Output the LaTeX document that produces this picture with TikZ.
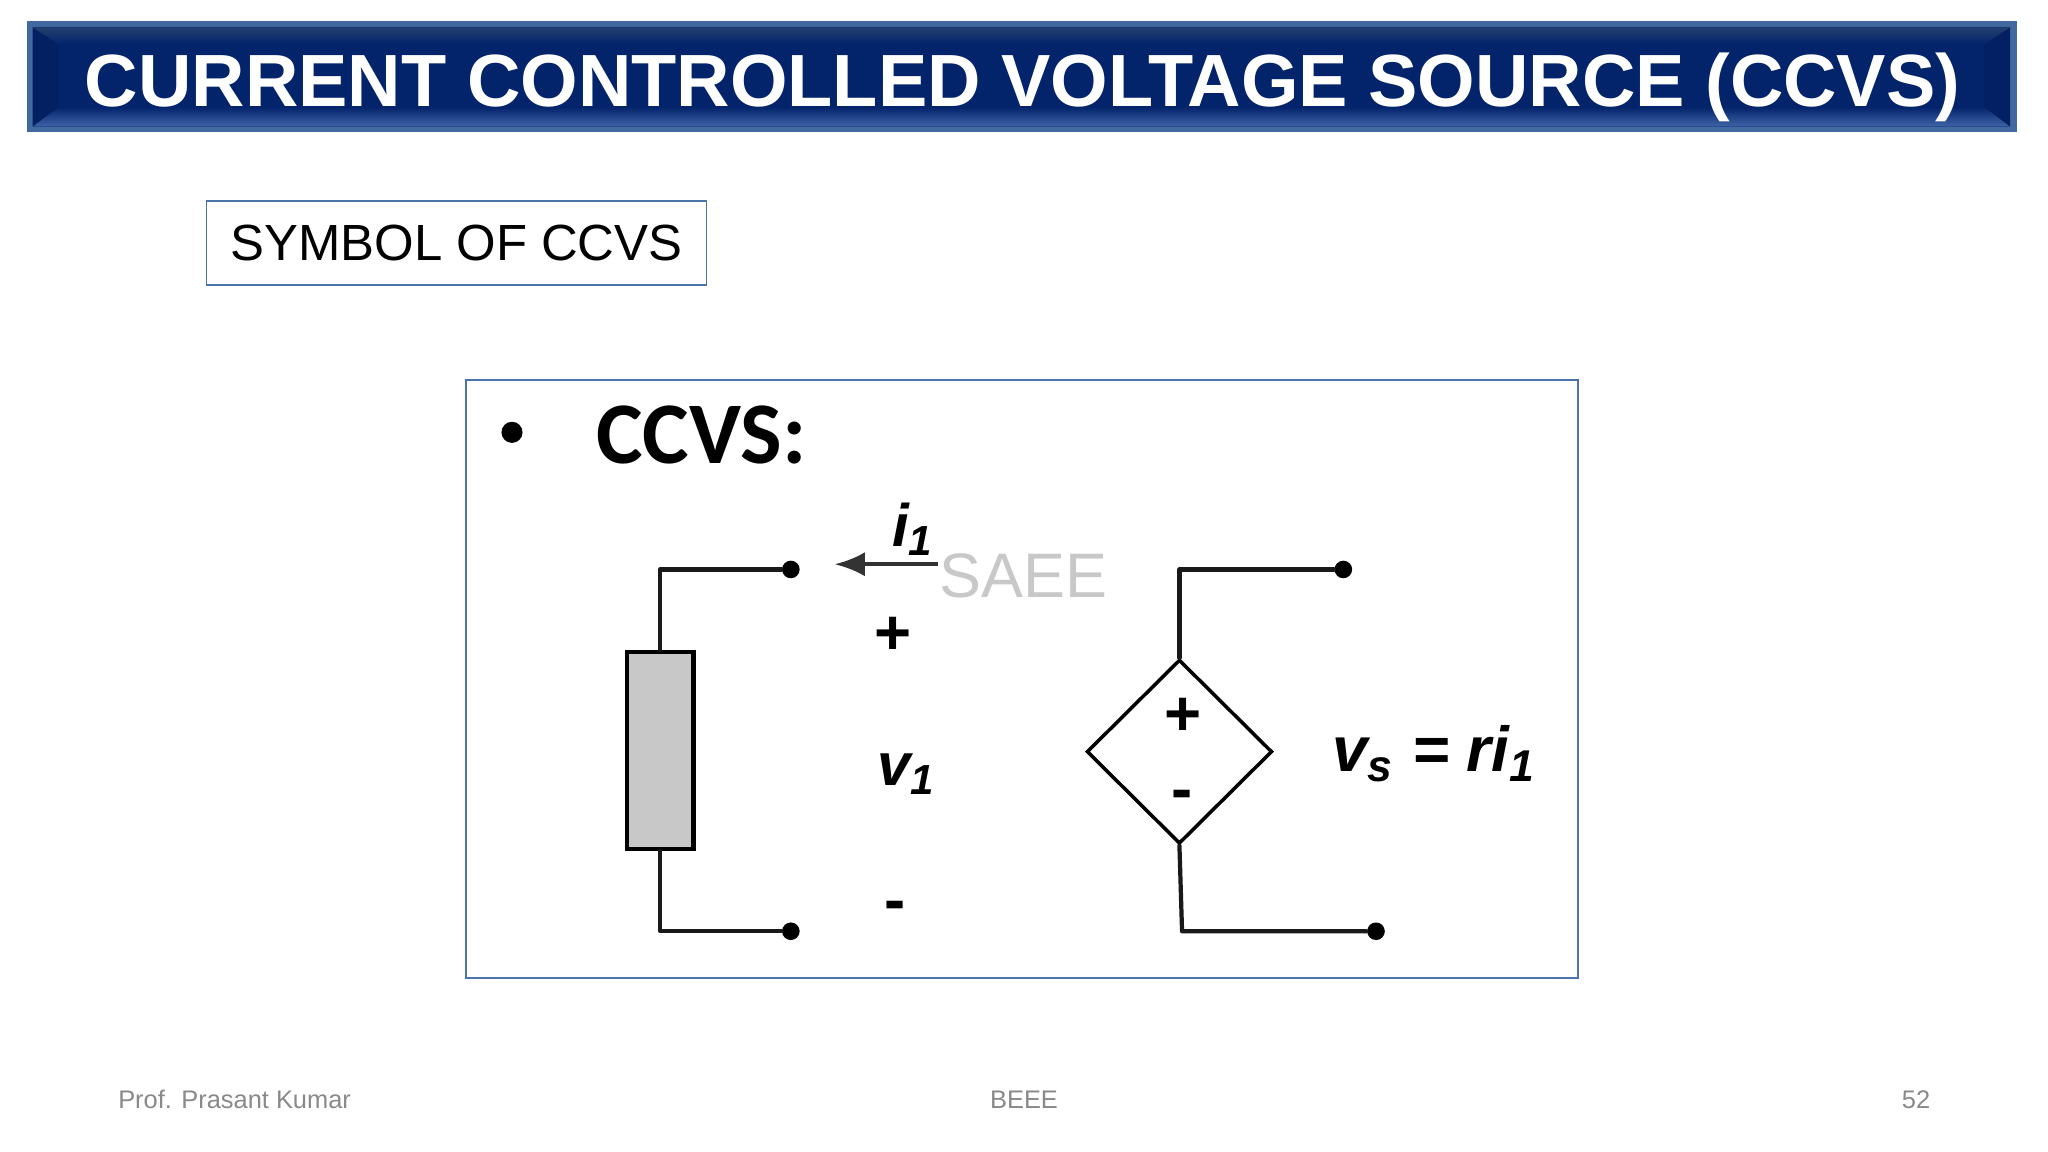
\documentclass[tikz,border=0pt]{standalone}
\usepackage{fontspec}
\setmainfont{Liberation Sans}
\newfontfamily\callabel{Carlito}
\usetikzlibrary{shapes.geometric,arrows.meta}
\definecolor{navy}{HTML}{03236B}
\definecolor{navytop}{HTML}{24406F}
\definecolor{navylow}{HTML}{4064A8}
\definecolor{edgeblue}{HTML}{41699F}
\definecolor{boxblue}{HTML}{4A74AB}
\definecolor{mark}{HTML}{C8C8C8}
\definecolor{foot}{HTML}{898989}
\tikzset{
  wire/.style={draw=black!90, line width=0.42mm, line cap=round, line join=round},
  term/.style={circle, fill=black, inner sep=0pt, minimum size=1.75mm},
  frame/.style={draw=boxblue, line width=0.17mm},
  sign/.style={font=\bfseries\fontsize{18}{18}\selectfont, inner sep=0pt},
  lab/.style={font=\bfseries\itshape\fontsize{17}{17}\selectfont, inner sep=0pt},
  footer/.style={text=foot, font=\fontsize{7.2}{8}\selectfont, inner sep=0pt},
}
\begin{document}
\begin{tikzpicture}[x=0.13mm,y=-0.13mm]
  \def\u{0.13mm}
  \useasboundingbox (0,0) rectangle (1568,882);
  \fill[edgeblue] (21,16) rectangle (1544,101);
  \fill[navy] (25,21) rectangle (1539,97);
  \fill[navy!92!black] (25,21) -- (45,34) -- (45,82) -- (25,97) -- cycle;
  \fill[navy!92!black] (1539,21) -- (1519,34) -- (1519,82) -- (1539,97) -- cycle;
  \shade[top color=navytop, bottom color=navy] (25,21) -- (1539,21) -- (1519,34) -- (45,34) -- cycle;
  \shade[top color=navy, bottom color=navylow] (45,82) -- (1519,82) -- (1539,97) -- (25,97) -- cycle;
  \node[text=white, font=\bfseries\fontsize{20.95}{22}\selectfont, inner sep=0pt] (title) at (783,67) {CURRENT CONTROLLED VOLTAGE SOURCE (CCVS)};
  \node[frame, minimum width=383*\u, minimum height=64*\u, font=\fontsize{14.4}{16}\selectfont, inner sep=0pt] (symbolbox) at (349.5,186) {SYMBOL OF CCVS};
  \node[frame, minimum width=851*\u, minimum height=458*\u, inner sep=0pt] (imgbox) at (782.5,520) {};
  \node[circle, fill=black, inner sep=0pt, minimum size=2.1mm] (bullet) at (392,331) {};
  \node[font=\callabel\bfseries\fontsize{24.9}{25}\selectfont, inner sep=0pt] (heading) at (537,333) {CCVS:};
  \node[term] (ta) at (605.5,436) {};
  \node[term] (tb) at (605.5,713) {};
  \node[term] (tc) at (1028.5,436) {};
  \node[term] (td) at (1053.5,713) {};
  \node[rectangle, draw=black, fill=mark, line width=0.42mm, minimum width=51*\u, minimum height=151*\u, inner sep=0pt] (load) at (505.5,574.5) {};
  \node[diamond, draw=black, line width=0.35mm, minimum width=142*\u, minimum height=141*\u, inner sep=0pt] (src) at (903,575.5) {};
  \coordinate (kink) at (905,713);
  \coordinate (arrowstart) at (718,432);
  \coordinate (arrowend) at (639,432);
  \draw[wire] (ta) -| (load.north);
  \draw[wire] (tb) -| (load.south);
  \draw[wire] (tc) -| (src.north);
  \draw[wire] (src.south) -- (kink) -- (td);
  \draw[draw=black!80, line width=0.42mm, -{Latex[length=3mm,width=2.4mm]}] (arrowstart) -- (arrowend);
  \node[lab] (iname) at (699,405) {i\textsubscript{1}};
  \node[text=mark, font=\fontsize{17.8}{19}\selectfont, inner sep=0pt] (saee) at (783.5,441) {SAEE};
  \node[sign] (vplus) at (684,487) {+};
  \node[lab] (vname) at (694,593) {v\textsubscript{1}};
  \node[sign] (vminus) at (685,698) {-};
  \node[sign] (splus) at (906,549) {+};
  \node[sign] (sminus) at (905,613) {-};
  \node[lab, font=\bfseries\itshape\fontsize{18}{18}\selectfont] (law) at (1098,577) {v\textsubscript{s} = ri\textsubscript{1}};
  \node[footer, anchor=west] (author) at (90,842) {Prof. Prasant Kumar};
  \node[footer] (course) at (784,842) {BEEE};
  \node[footer] (page) at (1467,842) {52};
\end{tikzpicture}
\end{document}
